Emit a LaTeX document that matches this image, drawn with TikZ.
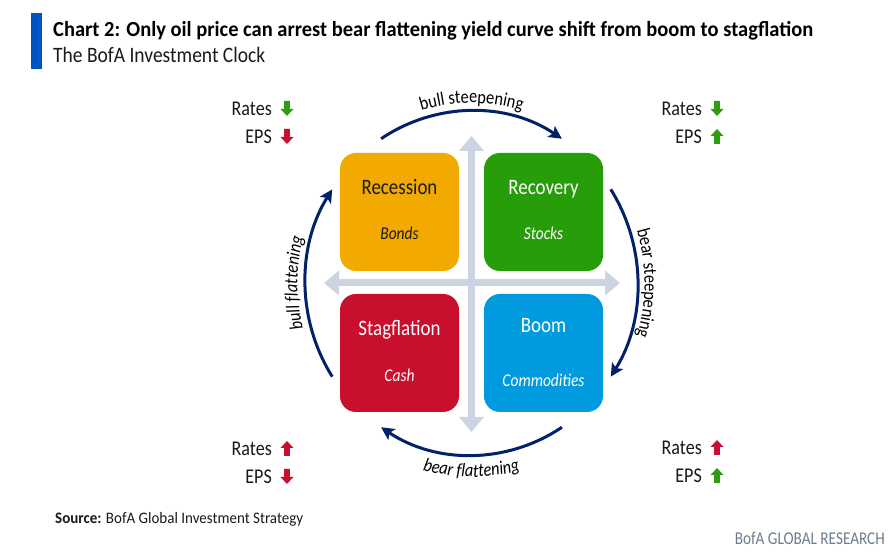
\documentclass[tikz,border=0pt]{standalone}
\usepackage{fontspec}
\setmainfont{Carlito}[FakeStretch=0.86]
\usetikzlibrary{arrows.meta,calc,decorations.text}
\definecolor{navy}{HTML}{012169}
\definecolor{bofablue}{HTML}{0053C2}
\definecolor{qorange}{HTML}{F2A900}
\definecolor{qgreen}{HTML}{289D0A}
\definecolor{qred}{HTML}{C8102E}
\definecolor{qblue}{HTML}{009ADE}
\definecolor{axisgray}{HTML}{CCD4E2}
\definecolor{footgray}{HTML}{6F7D8C}
\definecolor{upgreen}{HTML}{2E9E10}
\definecolor{dnred}{HTML}{C8102E}
\definecolor{inkdark}{HTML}{1A1A1A}
\begin{document}
\begin{tikzpicture}[x=1pt,y=1pt,
  quad/.style={rounded corners=16pt, minimum width=119pt, minimum height=118pt, inner sep=0pt},
  qtitle/.style={anchor=base, font=\fontsize{22}{22}\selectfont, inner sep=0pt},
  qsub/.style={anchor=base, font=\itshape\fontsize{18}{18}\selectfont, inner sep=0pt},
  cyc/.style={draw=navy, line width=3pt, -{Stealth[length=13pt,width=13pt,inset=3pt]}},
  axisline/.style={draw=axisgray, line width=7pt, {Triangle[length=15pt,width=24pt]}-{Triangle[length=15pt,width=24pt]}},
  lbl/.style={anchor=base east, font=\fontsize{21}{21}\selectfont, inner sep=0pt, text=inkdark},
  uparr/.pic={\fill[pic actions] (-2.8,0) -- (2.8,0) -- (2.8,8) -- (6.5,8) -- (0,15) -- (-6.5,8) -- (-2.8,8) -- cycle;},
  dnarr/.pic={\fill[pic actions] (-2.8,15) -- (2.8,15) -- (2.8,7) -- (6.5,7) -- (0,0) -- (-6.5,7) -- (-2.8,7) -- cycle;}
]
\useasboundingbox (0,0) rectangle (896,553);
\fill[white] (0,0) rectangle (896,553);

% header
\fill[bofablue] (31,484) rectangle (41.5,540);
\node[anchor=base west, inner sep=0pt] (title) at (53,516)
  {\resizebox{760pt}{\height}{\bfseries\fontsize{21.5}{21.5}\selectfont Chart 2: Only oil price can arrest bear flattening yield curve shift from boom to stagflation}};
\node[anchor=base west, inner sep=0pt, text=inkdark] (subtitle) at (53,490)
  {\resizebox{212pt}{\height}{\fontsize{22}{22}\selectfont The BofA Investment Clock}};

% axes
\coordinate (C) at (471.5,270);
\coordinate (axT) at (471.5,417);
\coordinate (axB) at (471.5,121);
\coordinate (axL) at (324,270);
\coordinate (axR) at (620,270);
\draw[axisline] (axB) -- (axT);
\draw[axisline] (axL) -- (axR);

% quadrants
\node[quad, fill=qorange] (rec) at (399.5,341) {};
\node[quad, fill=qgreen]  (rcv) at (543.5,341) {};
\node[quad, fill=qred]    (stg) at (399.5,200) {};
\node[quad, fill=qblue]   (boom) at (543.5,200) {};

\node[qtitle, text=inkdark] (recT) at (399.5,358) {Recession};
\node[qsub, text=inkdark]   (recS) at (399.5,313) {Bonds};
\node[qtitle, text=white] (rcvT) at (543.5,358) {Recovery};
\node[qsub, text=white]   (rcvS) at (543.5,313) {Stocks};
\node[qtitle, text=white] (stgT) at (399.5,217) {Stagflation};
\node[qsub, text=white]   (stgS) at (399.5,171) {Cash};
\node[qtitle, text=white] (boomT) at (543.5,220) {Boom};
\node[qsub, text=white]   (boomS) at (543.5,166) {Commodities};

% cycle arcs
\coordinate (tS) at ($(C)+(123:166 and 172)$);
\coordinate (rS) at ($(C)+(33:166 and 172)$);
\coordinate (bS) at ($(C)+(-57:166 and 172)$);
\coordinate (lS) at ($(C)+(213:166 and 172)$);
\draw[cyc] (tS) arc[start angle=123, end angle=57, x radius=166, y radius=172];
\draw[cyc] (rS) arc[start angle=33, end angle=-33, x radius=166, y radius=172];
\draw[cyc] (bS) arc[start angle=-57, end angle=-123, x radius=166, y radius=172];
\draw[cyc] (lS) arc[start angle=213, end angle=147, x radius=166, y radius=172];

% arc labels
\path[decorate, decoration={text along path, text align=center,
  text={|\fontsize{19}{19}\selectfont|bull steepening}}]
  ($(C)+(135:174 and 180)$) arc[start angle=135, end angle=45, x radius=174, y radius=180];
\path[decorate, decoration={text along path, text align=center,
  text={|\fontsize{19}{19}\selectfont|bear steepening}}]
  ($(C)+(40:173 and 180)$) arc[start angle=40, end angle=-40, x radius=173, y radius=180];
\path[decorate, decoration={text along path, text align=center,
  text={|\itshape\fontsize{19}{19}\selectfont|bear flattening}}]
  ($(C)+(-130:186 and 194)$) arc[start angle=-130, end angle=-50, x radius=186, y radius=194];
\path[decorate, decoration={text along path, text align=center,
  text={|\itshape\fontsize{19}{19}\selectfont|bull flattening}}]
  ($(C)+(220:174 and 180)$) arc[start angle=220, end angle=140, x radius=174, y radius=180];

% Rates / EPS indicators
\node[lbl] (rTL) at (272,437) {Rates};
\node[lbl] (eTL) at (272,409) {EPS};
\pic[fill=upgreen] at (287,437) {dnarr};
\pic[fill=dnred] at (287,409) {dnarr};

\node[lbl] (rTR) at (702,437) {Rates};
\node[lbl] (eTR) at (702,409) {EPS};
\pic[fill=upgreen] at (717,437) {dnarr};
\pic[fill=upgreen] at (717,409) {uparr};

\node[lbl] (rBL) at (272,97) {Rates};
\node[lbl] (eBL) at (272,69) {EPS};
\pic[fill=dnred] at (287,97) {uparr};
\pic[fill=dnred] at (287,69) {dnarr};

\node[lbl] (rBR) at (702,98) {Rates};
\node[lbl] (eBR) at (702,70) {EPS};
\pic[fill=dnred] at (717,98) {uparr};
\pic[fill=upgreen] at (717,70) {uparr};

% footer
\node[anchor=base west, inner sep=0pt, text=inkdark] (source) at (55,29)
  {\resizebox{248pt}{\height}{\fontsize{16}{16}\selectfont\textbf{Source:} BofA Global Investment Strategy}};
\node[anchor=base east, inner sep=0pt, text=footgray] (brand) at (885,8)
  {\resizebox{150pt}{\height}{\fontsize{18}{18}\selectfont BofA GLOBAL RESEARCH}};
\end{tikzpicture}
\end{document}
